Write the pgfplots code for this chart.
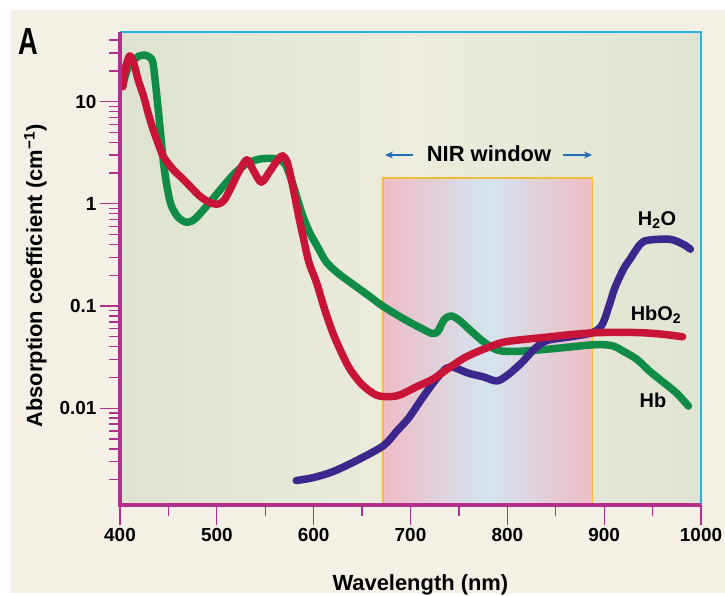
\documentclass[border=0pt]{standalone}
\usepackage{pgfplots}
\pgfplotsset{compat=1.18}
\usepackage{fontspec}
\setmainfont{Liberation Sans}
\usetikzlibrary{arrows.meta}
\definecolor{creamc}{RGB}{245,240,230}
\definecolor{bgleft}{RGB}{221,227,208}
\definecolor{bgmid}{RGB}{237,236,222}
\definecolor{bgright}{RGB}{223,228,210}
\definecolor{hbc}{RGB}{16,140,70}
\definecolor{hboc}{RGB}{200,20,55}
\definecolor{h2oc}{RGB}{60,40,140}
\definecolor{magc}{RGB}{176,48,140}
\definecolor{cyanc}{RGB}{40,180,225}
\definecolor{goldc}{RGB}{236,190,60}
\definecolor{nirpink}{RGB}{238,188,198}
\definecolor{nirblue}{RGB}{212,228,238}
\definecolor{arrowc}{RGB}{30,110,180}
\begin{document}
\begin{tikzpicture}[x=1bp,y=1bp]
\useasboundingbox (0,0) rectangle (725,-596);
\fill[white] (0,0) rectangle (725,-596);
\fill[creamc] (11,-10) rectangle (725,-593);
\node[anchor=base west, inner sep=0pt, font=\bfseries\fontsize{38}{38}\selectfont] at (18,-55) {\scalebox{0.72}[1]{A}};
\begin{axis}[at={(120bp,-505bp)}, anchor=south west, scale only axis,
  width=581bp, height=473bp,
  ymode=log, xmin=400, xmax=1000, ymin=0.00113, ymax=48,
  axis x line*=bottom, axis y line*=left, axis line style={draw=none},
  axis background/.style={left color=bgleft, right color=bgright, middle color=bgmid},
  clip=false,
  tick align=outside, major tick length=20bp, minor tick length=11bp,
  tick style={magc, line width=1.3bp},
  xtick={400,500,600,700,800,900,1000},
  xticklabels={400,500,600,700,800,900,1000},
  minor xtick={450,550,650,750,850,950},
  ytick={0.01,0.1,1,10}, yticklabels={0.01,0.1,1,10},
  minor ytick={0.002,0.003,0.004,0.005,0.006,0.007,0.008,0.009,0.02,0.03,0.04,0.05,0.06,0.07,0.08,0.09,0.2,0.3,0.4,0.5,0.6,0.7,0.8,0.9,2,3,4,5,6,7,8,9,20,30,40},
  ticklabel style={font=\bfseries\fontsize{19}{19}\selectfont},
  xlabel={Wavelength (nm)}, ylabel={Absorption coefficient (cm\textsuperscript{−1})},
  every axis x label/.style={at={(axis description cs:0.517,-0.18)}, anchor=base, font=\bfseries\fontsize{22}{22}\selectfont},
  every axis y label/.style={at={(axis description cs:-0.134,0.484)}, rotate=90, anchor=base, font=\bfseries\fontsize{22}{22}\selectfont},
  every axis plot/.append style={line width=7.5bp, line cap=round, line join=round, smooth},
]
\fill[left color=nirpink, right color=nirpink, middle color=nirblue] (axis cs:672,0.00113) rectangle (axis cs:888,1.78);
\draw[goldc, line width=1.8bp] (axis cs:672,0.00113) -- (axis cs:672,1.78) -- (axis cs:888,1.78) -- (axis cs:888,0.00113);
% Hb
\addplot[hbc] coordinates {(404,16) (408,21) (413,25) (420,28) (426,28.5) (431,27) (434,24) (437,14) (440,7.5) (445,2.5) (449,1.4) (453,0.96) (460,0.74) (469,0.66) (478,0.72) (493,1.04) (507,1.5) (520,2.06) (532,2.5) (545,2.75) (562,2.75) (571,2.4) (579,1.5) (588,0.8) (596,0.52) (604,0.38) (613,0.27) (625,0.21) (638,0.17) (655,0.13) (672,0.099) (695,0.073) (712,0.06) (722,0.054) (728,0.056) (735,0.074) (742,0.08) (750,0.073) (760,0.06) (775,0.045) (790,0.037) (810,0.036) (844,0.038) (888,0.0417) (908,0.041) (920,0.036) (934,0.030) (947,0.023) (961,0.018) (975,0.014) (987,0.0105)};
% H2O
\addplot[h2oc] coordinates {(582,0.00196) (600,0.0021) (620,0.0024) (645,0.0031) (672,0.0043) (686,0.006) (698,0.0080) (713,0.0129) (726,0.019) (737,0.0246) (745,0.025) (760,0.022) (775,0.0203) (789,0.0185) (800,0.021) (815,0.028) (828,0.038) (841,0.046) (865,0.050) (888,0.055) (898,0.066) (905,0.1) (911,0.15) (920,0.23) (927,0.29) (937,0.40) (945,0.44) (968,0.45) (982,0.40) (989,0.36)};
% HbO2
\addplot[hboc] coordinates {(403,14) (406,22) (410,28) (414,24) (419,16) (424,11.6) (429,7.8) (434,5.4) (439,4.0) (444,3.0) (451,2.4) (457,2.06) (465,1.75) (482,1.2) (492,1.04) (500,0.99) (507,1.07) (514,1.4) (522,2.0) (531,2.7) (538,2.1) (546,1.63) (555,2.1) (563,2.7) (568,2.95) (573,2.5) (579,1.4) (584,0.8) (589,0.48) (595,0.27) (603,0.169) (611,0.095) (620,0.054) (630,0.033) (638,0.0237) (650,0.017) (665,0.0134) (680,0.013) (690,0.0136) (705,0.016) (724,0.0195) (741,0.0253) (758,0.032) (782,0.040) (800,0.045) (844,0.050) (870,0.053) (896,0.055) (935,0.055) (960,0.053) (981,0.050)};
\draw[cyanc, line width=2bp] (rel axis cs:0,1) -- (rel axis cs:1,1) -- (rel axis cs:1,0);
\draw[magc, line width=4.5bp] (rel axis cs:1,0) -- (rel axis cs:0,0) -- (rel axis cs:0,1);
\end{axis}
\node[anchor=base, font=\bfseries\fontsize{22}{22}\selectfont] at (489,-162) {NIR window};
\draw[arrowc, line width=1.6bp, -{Stealth[length=8bp,width=7bp]}] (413,-155) -- (385,-155);
\draw[arrowc, line width=1.6bp, -{Stealth[length=8bp,width=7bp]}] (563,-155) -- (592,-155);
\node[anchor=base, font=\bfseries\fontsize{20}{20}\selectfont] at (657,-225) {H\textsubscript{2}O};
\node[anchor=base, font=\bfseries\fontsize{20}{20}\selectfont] at (656,-320) {HbO\textsubscript{2}};
\node[anchor=base, font=\bfseries\fontsize{20}{20}\selectfont] at (653,-407) {Hb};
\end{tikzpicture}
\end{document}
